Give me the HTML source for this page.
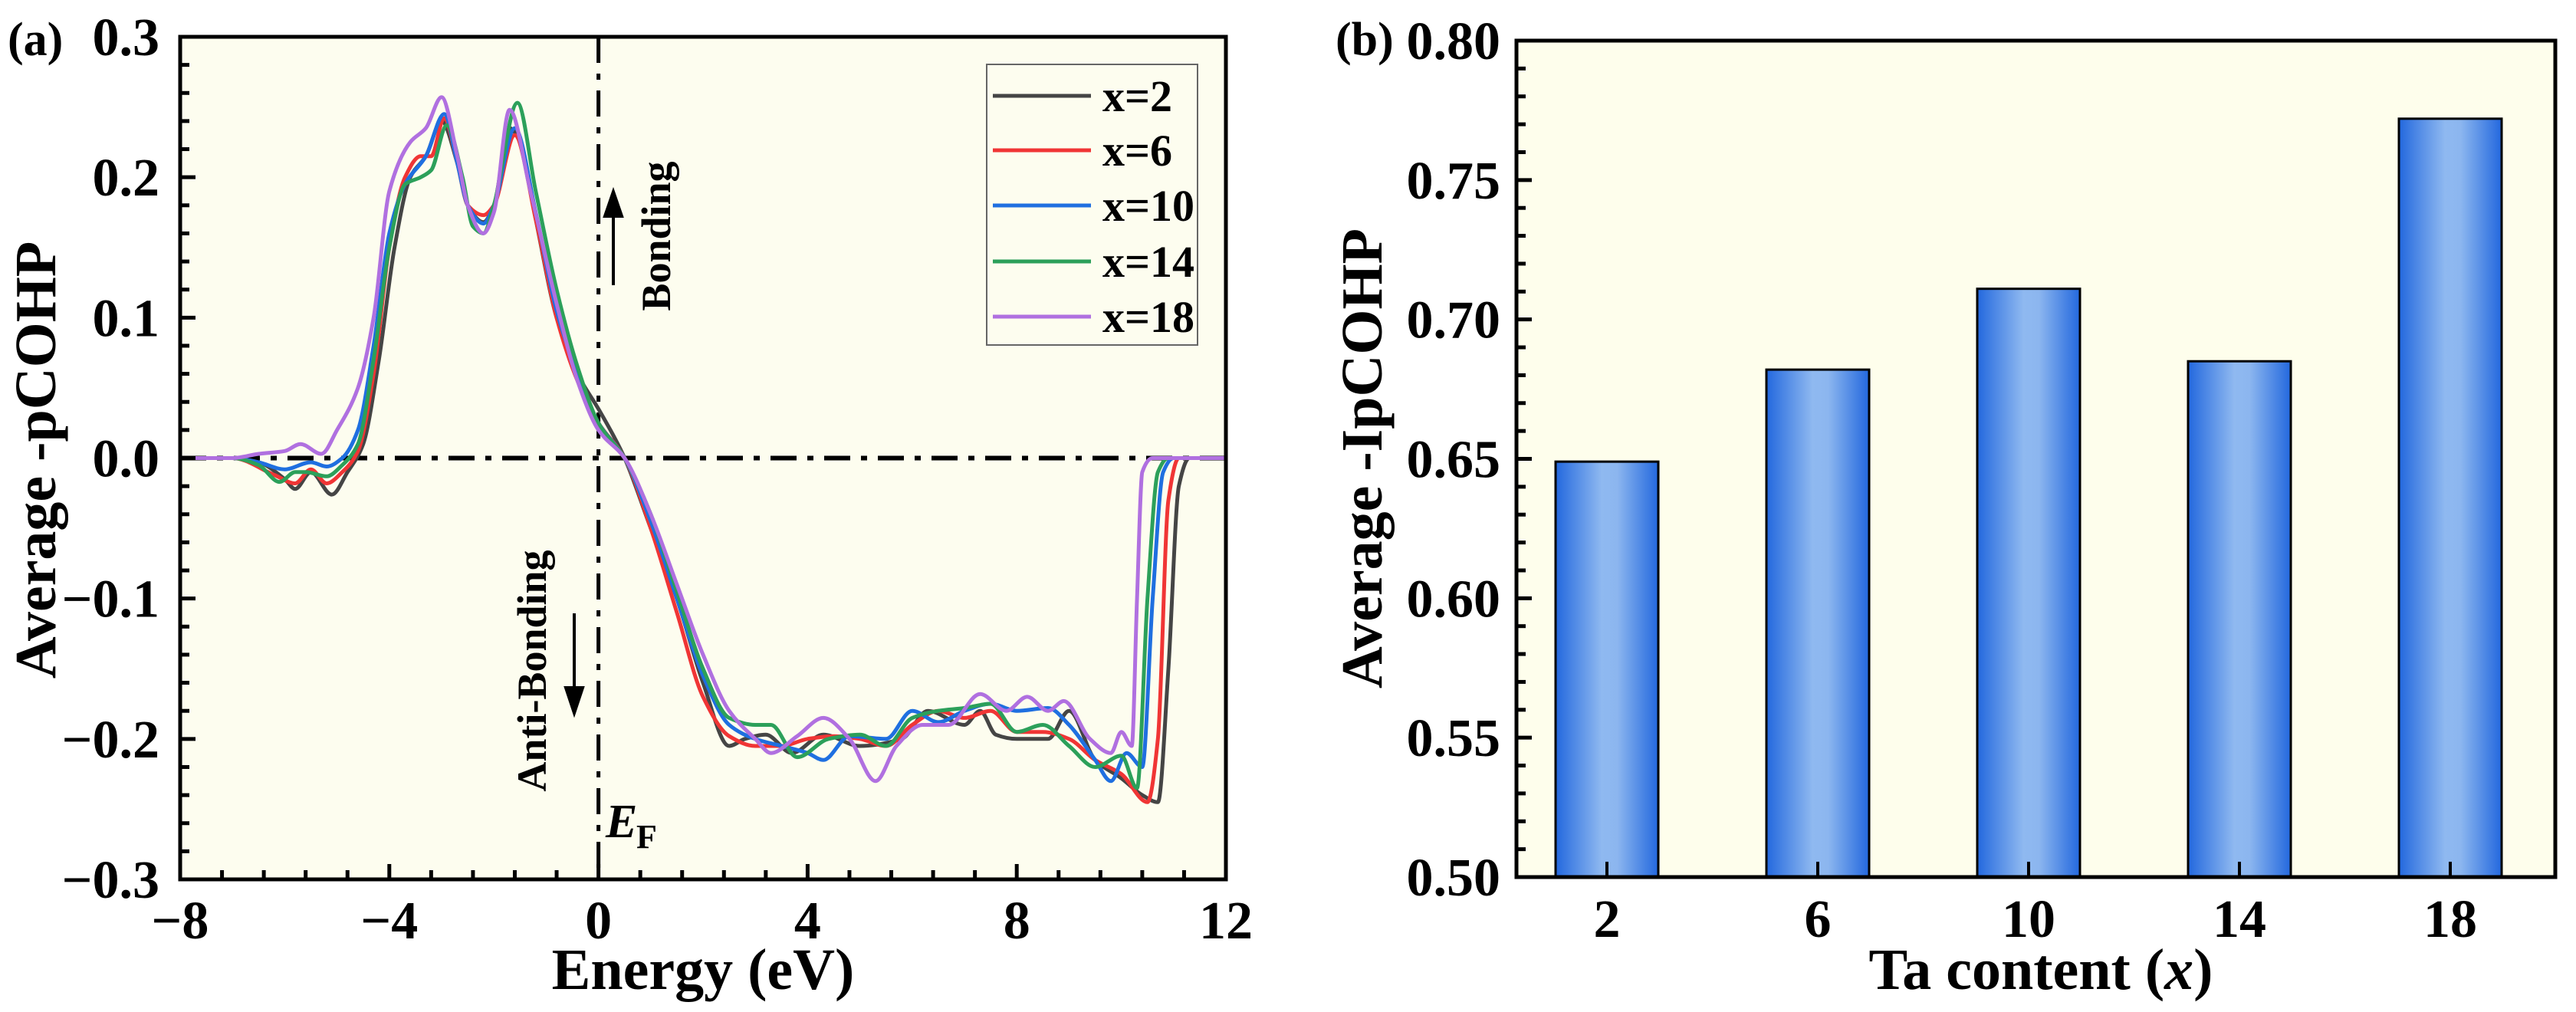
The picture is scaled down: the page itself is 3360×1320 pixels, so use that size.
<!DOCTYPE html>
<html><head><meta charset="utf-8">
<style>
html,body{margin:0;padding:0;background:#fff;}
svg{display:block;}
text{font-family:"Liberation Serif",serif;font-weight:bold;fill:#000;}
</style></head>
<body>
<svg id="fig" width="3360" height="1320" viewBox="0 0 3360 1320" xmlns="http://www.w3.org/2000/svg">
<defs>
<linearGradient id="barGrad" x1="0" x2="1" y1="0" y2="0">
<stop offset="0" stop-color="#2368de"/>
<stop offset="0.45" stop-color="#8fb9f0"/>
<stop offset="0.6" stop-color="#8cb6ef"/>
<stop offset="1" stop-color="#2368de"/>
</linearGradient>
</defs>
<g id="panelA"></g>
<g id="panelB"></g>
</svg>
<script>
// ---------- Panel (a) data ----------
const seriesNames = ["x=2","x=6","x=10","x=14","x=18"];
const seriesColors = ["#454545","#f03535","#1f6fe0","#2ca05a","#b070e0"];
const e2 = [-8,-7,-6.5,-6,-5.8,-5.5,-5.1,-4.8,-4.5,-4.2,-3.9,-3.6,-3.3,-3.0,-2.7,-2.5,-2.2,-2.0,-1.7,-1.5,-1.2,-0.8,-0.4,0,0.3,0.5,1,1.5,2,2.5,2.8,3.2,3.7,4.3,5,5.8,6.3,7,7.3,7.6,8,8.6,9,9.5,10,10.4,10.7,10.9,11.1,11.3,12];
const v2 = [0,0,-0.003,-0.015,-0.022,-0.01,-0.026,-0.01,0.01,0.07,0.15,0.2,0.215,0.24,0.21,0.18,0.168,0.18,0.235,0.225,0.17,0.1,0.06,0.035,0.015,0,-0.05,-0.1,-0.16,-0.205,-0.2,-0.197,-0.21,-0.197,-0.205,-0.2,-0.18,-0.19,-0.18,-0.197,-0.2,-0.2,-0.18,-0.215,-0.228,-0.24,-0.245,-0.15,-0.02,0,0];
const e6 = [-8,-7,-6.2,-5.8,-5.5,-5.2,-4.9,-4.6,-4.3,-4,-3.7,-3.4,-3.2,-2.95,-2.7,-2.5,-2.2,-2.0,-1.6,-1.2,-0.8,-0.4,0,0.5,1,1.5,2,2.5,3,3.5,4,4.5,5,5.5,6,6.5,7,7.5,8,8.5,9,9.5,10,10.5,10.7,10.9,11.1,12];
const v6 = [0,0,-0.012,-0.018,-0.008,-0.018,-0.01,0.005,0.06,0.15,0.2,0.215,0.215,0.242,0.21,0.18,0.173,0.18,0.23,0.17,0.1,0.055,0.025,0,-0.05,-0.11,-0.17,-0.198,-0.205,-0.205,-0.2,-0.198,-0.2,-0.205,-0.19,-0.18,-0.185,-0.18,-0.195,-0.195,-0.2,-0.215,-0.225,-0.245,-0.2,-0.03,0,0];
const e10 = [-8,-7,-6.5,-6,-5.5,-5.2,-4.9,-4.6,-4.3,-4,-3.7,-3.3,-2.95,-2.7,-2.5,-2.2,-2,-1.6,-1.2,-0.8,-0.4,0,0.5,1,1.5,2,2.5,3,3.5,4,4.3,4.8,5.5,6,6.5,7,7.5,8,8.6,9,9.5,9.8,10.1,10.4,10.6,10.8,11,12];
const v10 = [0,0,-0.003,-0.008,-0.003,-0.006,0,0.02,0.08,0.16,0.195,0.215,0.245,0.21,0.18,0.167,0.18,0.235,0.175,0.105,0.06,0.025,0,-0.045,-0.1,-0.155,-0.19,-0.2,-0.205,-0.21,-0.215,-0.198,-0.2,-0.18,-0.188,-0.18,-0.175,-0.18,-0.178,-0.19,-0.215,-0.23,-0.21,-0.22,-0.1,-0.01,0,0];
const e14 = [-8,-7,-6.5,-6.1,-5.8,-5.6,-5.2,-4.9,-4.6,-4.3,-4,-3.7,-3.4,-3.2,-2.9,-2.6,-2.4,-2.2,-2.0,-1.55,-1.2,-0.8,-0.4,0,0.5,1,1.5,2,2.5,3,3.3,3.8,4.4,5,5.5,6,6.5,7,7.5,8,8.5,9,9.5,10,10.3,10.5,10.7,10.9,12];
const v14 = [0,0,-0.005,-0.017,-0.01,-0.01,-0.013,-0.005,0.01,0.07,0.15,0.195,0.2,0.205,0.237,0.2,0.165,0.16,0.18,0.253,0.19,0.12,0.065,0.025,0,-0.04,-0.095,-0.15,-0.185,-0.19,-0.19,-0.213,-0.2,-0.197,-0.205,-0.185,-0.18,-0.178,-0.175,-0.195,-0.19,-0.205,-0.22,-0.212,-0.235,-0.1,-0.01,0,0];
const e18 = [-8,-7,-6.5,-6,-5.7,-5.3,-5,-4.6,-4.3,-4.0,-3.6,-3.3,-3.0,-2.7,-2.5,-2.2,-2.0,-1.7,-1.3,-0.8,-0.4,0,0.5,1,1.5,2,2.5,3,3.3,3.8,4.3,4.8,5.3,5.7,6.2,6.7,7.3,7.8,8.2,8.6,8.9,9.4,9.8,10,10.2,10.3,10.4,10.6,12];
const v18 = [0,0,0.003,0.005,0.01,0.003,0.02,0.05,0.1,0.19,0.225,0.235,0.257,0.215,0.18,0.16,0.175,0.248,0.19,0.11,0.055,0.02,0,-0.04,-0.09,-0.14,-0.18,-0.2,-0.21,-0.198,-0.185,-0.2,-0.23,-0.205,-0.19,-0.19,-0.168,-0.18,-0.17,-0.18,-0.173,-0.2,-0.21,-0.195,-0.205,-0.1,-0.01,0,0];
const energies = [e2,e6,e10,e14,e18];
const values = [v2,v6,v10,v14,v18];
const xTicksA = [-8,-4,0,4,8,12];
const yTicksA = [-0.3,-0.2,-0.1,0.0,0.1,0.2,0.3];
const yTickLabelsA = ["\u22120.3","\u22120.2","\u22120.1","0.0","0.1","0.2","0.3"];
const xTickLabelsA = ["\u22128","\u22124","0","4","8","12"];

// ---------- Panel (b) data ----------
const taContent = [2,6,10,14,18];
const ipcohp = [0.649,0.682,0.711,0.685,0.772];
const yTicksB = [0.50,0.55,0.60,0.65,0.70,0.75,0.80];
const yTickLabelsB = ["0.50","0.55","0.60","0.65","0.70","0.75","0.80"];

const NS = "http://www.w3.org/2000/svg";
function mk(parent, tag, attrs, txt){
  const el = document.createElementNS(NS, tag);
  for (const k in attrs) el.setAttribute(k, attrs[k]);
  if (txt !== undefined) el.textContent = txt;
  parent.appendChild(el);
  return el;
}
// monotone cubic (Fritsch-Carlson) path through screen points
function smoothPath(pts){
  const n = pts.length;
  const dx=[], m=[];
  for (let i=0;i<n-1;i++){ dx[i]=pts[i+1][0]-pts[i][0]; m[i]=(pts[i+1][1]-pts[i][1])/dx[i]; }
  const t=[];
  t[0]=m[0]; t[n-1]=m[n-2];
  for (let i=1;i<n-1;i++){
    if (m[i-1]*m[i]<=0) t[i]=0;
    else { const w1=2*dx[i]+dx[i-1], w2=dx[i]+2*dx[i-1]; t[i]=(w1+w2)/(w1/m[i-1]+w2/m[i]); }
  }
  let d = "M" + pts[0][0].toFixed(1) + "," + pts[0][1].toFixed(1);
  for (let i=0;i<n-1;i++){
    const h=dx[i]/3;
    d += " C"+(pts[i][0]+h).toFixed(1)+","+(pts[i][1]+t[i]*h).toFixed(1)+" "+(pts[i+1][0]-h).toFixed(1)+","+(pts[i+1][1]-t[i+1]*h).toFixed(1)+" "+pts[i+1][0].toFixed(1)+","+pts[i+1][1].toFixed(1);
  }
  return d;
}

// ===== Panel A =====
(function(){
  const g = document.getElementById("panelA");
  const L=235,R=1599,T=48,B=1147;
  const xS = v => L + (v-(-8))/(20)*(R-L);
  const yS = v => T + (0.3-v)/0.6*(B-T);
  const bg = mk(g,"rect",{x:L,y:T,width:R-L,height:B-T,fill:"#fdfdef"});
  
  
  const hz = mk(g,"line",{x1:L,x2:R,y1:yS(0),y2:yS(0),stroke:"#000","stroke-width":6,"stroke-dasharray":"34,14,8,14"});
  
  
  const vt = mk(g,"line",{x1:xS(0),x2:xS(0),y1:T,y2:B,stroke:"#000","stroke-width":5,"stroke-dasharray":"34,14,8,14"});
  
  
  for (let s=0;s<energies.length;s++){
    const pts = energies[s].map((e,i)=>[xS(e), yS(values[s][i])]);
    const p = mk(g,"path",{d:smoothPath(pts),fill:"none",stroke:seriesColors[s],"stroke-width":5,"stroke-linejoin":"round"});
    
    
  }
  const fr = mk(g,"rect",{x:L,y:T,width:R-L,height:B-T,fill:"none",stroke:"#000","stroke-width":5});
  
  
  for (let v=-0.3; v<=0.3001; v+=0.02){
    const major = Math.abs(Math.round(v*10)-v*10)<1e-6;
    mk(g,"line",{x1:L,x2:L+(major?20:12),y1:yS(v),y2:yS(v),stroke:"#000","stroke-width":5});
  }
  yTicksA.forEach((v,i)=>{
    const t = mk(g,"text",{x:208,y:yS(v)+24,"text-anchor":"end","font-size":70},yTickLabelsA[i]);
    
    
  });
  for (let v=-8; v<=12.001; v+=0.8){
    const major = Math.abs(v/4-Math.round(v/4))<1e-6;
    mk(g,"line",{x1:xS(v),x2:xS(v),y1:B,y2:B-(major?20:12),stroke:"#000","stroke-width":5});
  }
  xTicksA.forEach((v,i)=>{
    const t = mk(g,"text",{x:xS(v),y:1224,"text-anchor":"middle","font-size":70},xTickLabelsA[i]);
    
    
  });
  const xt = mk(g,"text",{x:917,y:1290,"text-anchor":"middle","font-size":76},"Energy (eV)");
  
  
  const yt = mk(g,"text",{x:0,y:0,"text-anchor":"middle","font-size":76,transform:"translate(72,600) rotate(-90)"},"Average -pCOHP");
  
  
  const pl = mk(g,"text",{x:10,y:72,"font-size":62},"(a)");
  
  
  const bd = mk(g,"text",{x:0,y:0,"text-anchor":"middle","font-size":54,transform:"translate(874,308) rotate(-90)"},"Bonding");
  
  
  const ab = mk(g,"text",{x:0,y:0,"text-anchor":"middle","font-size":54,transform:"translate(712,875) rotate(-90)"},"Anti-Bonding");
  
  
  const a1 = mk(g,"path",{d:"M800,372 L800,272 M789,282 L800,250 L811,282 Z",stroke:"#000","stroke-width":4,fill:"#000"});
  
  
  const a2 = mk(g,"path",{d:"M749,800 L749,905 M738,897 L749,930 L760,897 Z",stroke:"#000","stroke-width":4,fill:"#000"});
  
  
  const ef = mk(g,"text",{x:790,y:1092,"font-size":62,"font-style":"italic"},"E");
  
  
  mk(g,"text",{x:830,y:1106,"font-size":44},"F");
  const lg = mk(g,"g",{});
  
  
  mk(lg,"rect",{x:1287,y:84,width:275,height:366,fill:"none",stroke:"#666","stroke-width":2});
  const ly = [125,196,268,341,413];
  seriesNames.forEach((n,i)=>{
    const e = mk(lg,"g",{});
    
    
    mk(e,"line",{x1:1295,x2:1423,y1:ly[i],y2:ly[i],stroke:seriesColors[i],"stroke-width":5});
    mk(e,"text",{x:1438,y:ly[i]+20,"font-size":58},n);
  });
})();

// ===== Panel B =====
(function(){
  const g = document.getElementById("panelB");
  const L=1978,R=3333,T=53,B=1144;
  const xS = v => 2096 + (v-2)*(1100/16);
  const yS = v => T + (0.8-v)/0.3*(B-T);
  const bg = mk(g,"rect",{x:L,y:T,width:R-L,height:B-T,fill:"#fefeec"});
  
  
  const bw = 134;
  taContent.forEach((c,i)=>{
    const r = mk(g,"rect",{x:xS(c)-bw/2,y:yS(ipcohp[i]),width:bw,height:B-yS(ipcohp[i]),fill:"url(#barGrad)",stroke:"#000","stroke-width":3});
    
    
  });
  const fr = mk(g,"rect",{x:L,y:T,width:R-L,height:B-T,fill:"none",stroke:"#000","stroke-width":5});
  
  
  for (let k=0;k<=30;k++){
    const v = 0.5 + k*0.01;
    const major = k%5===0;
    mk(g,"line",{x1:L,x2:L+(major?20:12),y1:yS(v),y2:yS(v),stroke:"#000","stroke-width":5});
  }
  yTicksB.forEach((v,i)=>{
    const t = mk(g,"text",{x:1957,y:yS(v)+24,"text-anchor":"end","font-size":70},yTickLabelsB[i]);
    
    
  });
  taContent.forEach(c=>{
    mk(g,"line",{x1:xS(c),x2:xS(c),y1:B,y2:B-20,stroke:"#000","stroke-width":4});
    const t = mk(g,"text",{x:xS(c),y:1222,"text-anchor":"middle","font-size":70},String(c));
    
    
  });
  const xt = mk(g,"text",{x:2662,y:1290,"text-anchor":"middle","font-size":76});
  
  
  mk(xt,"tspan",{},"Ta content (");
  mk(xt,"tspan",{"font-style":"italic"},"x");
  mk(xt,"tspan",{},")");
  const yt = mk(g,"text",{x:0,y:0,"text-anchor":"middle","font-size":76,transform:"translate(1802,598) rotate(-90)"},"Average -IpCOHP");
  
  
  const pl = mk(g,"text",{x:1742,y:72,"font-size":62},"(b)");
  
  
})();
</script>
</body></html>
